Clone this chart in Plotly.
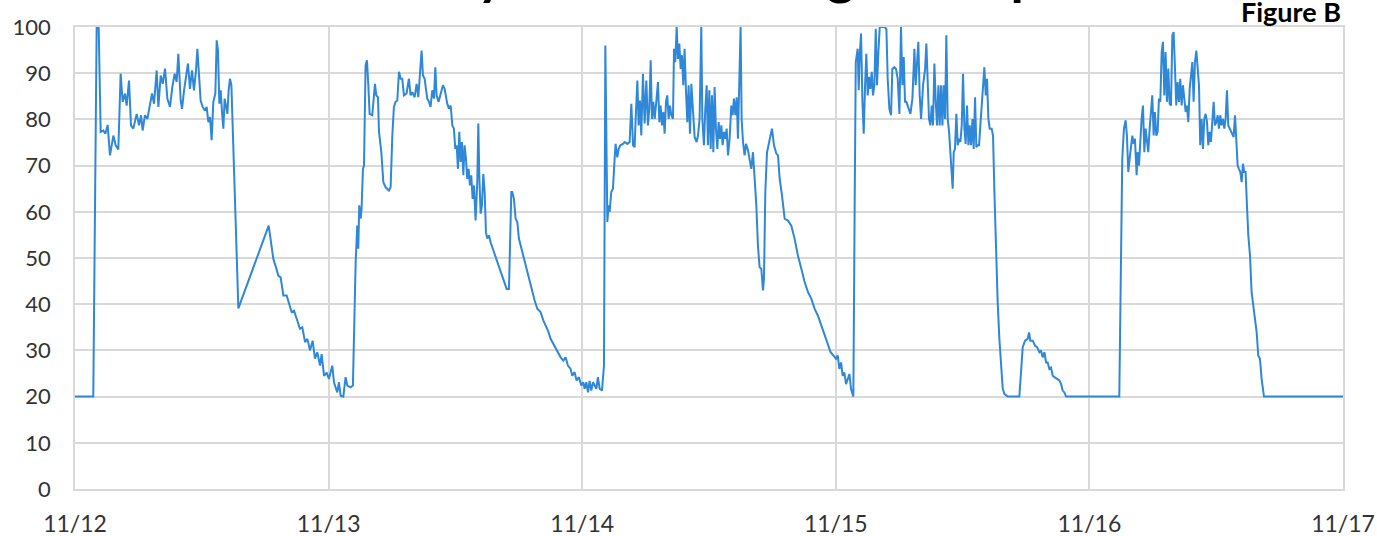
import pandas as pd
import plotly.graph_objects as go

# ---- data: hours since 11/12 00:00 and reading values ----
day1_hours = [0, 1.73, 2.05, 2.24, 2.43, 2.68, 2.87, 3.09, 3.31, 3.47, 3.63, 3.85, 4.10, 4.32, 4.51, 4.73, 4.89,
              5.11, 5.30, 5.52, 5.84, 6.06, 6.25, 6.40, 6.62, 6.85, 7.10, 7.29, 7.48, 7.73, 7.89, 8.11, 8.30,
              8.52, 8.74, 8.99, 9.21, 9.43, 9.62, 9.78, 10.00, 10.13, 10.32, 10.50, 10.69, 10.88, 11.07, 11.26,
              11.45, 11.58, 11.77, 11.89, 12.08, 12.30, 12.46, 12.62, 12.78, 12.93, 13.09, 13.28, 13.41, 13.53,
              13.66, 13.79, 13.91, 14.04, 14.16, 14.29, 14.42, 14.54, 14.67, 14.80, 14.89, 15.05, 15.46, 18.33,
              18.61, 18.77, 19.02, 19.24, 19.46, 19.72, 20.03, 20.28, 20.50, 20.73, 20.98, 21.29, 21.51, 21.77,
              21.99, 22.24, 22.49, 22.71, 22.93, 23.19, 23.34, 23.57, 23.82]
day1_vals = [20, 20, 100, 100, 77.3, 77.6, 76.9, 78.8, 72.2, 74.4, 76.5, 74.4, 73.5, 89.9, 83.8, 85.6, 83.0,
             88.4, 78.7, 78.0, 81.2, 78.7, 80.9, 77.6, 80.9, 80.1, 83.8, 85.6, 83.4, 90.6, 82.7, 89.5, 87.7,
             91.0, 84.5, 82.7, 87.0, 89.9, 88.1, 94.2, 84.1, 82.3, 86.3, 88.8, 92.1, 86.6, 90.6, 86.3,
             90.6, 95.3, 86.6, 84.1, 82.7, 81.9, 82.7, 79.4, 80.5, 75.5, 83.8, 85.6, 97.1, 94.9,
             83.4, 86.3, 81.6, 78.0, 84.5, 82.7, 81.2, 86.3, 88.8, 87.4, 80.9, 71.5, 39.1, 57.0,
             52.7, 49.8, 48.0, 46.2, 45.8, 41.9, 41.9, 39.7, 38.3, 38.6, 36.8, 34.7, 35.0, 31.8,
             32.5, 30.0, 32.1, 28.2, 29.6, 26.7, 29.2, 24.5, 25.2]

day2_hours = [24.03, 24.35, 24.51, 24.82, 24.98, 25.14, 25.39, 25.61, 25.77, 26.08, 26.30, 26.56, 26.71, 26.81,
              26.90, 27.03, 27.12, 27.25, 27.35, 27.50, 27.63, 27.76, 27.88, 28.13, 28.29, 28.39, 28.51, 28.67,
              28.77, 28.86, 28.99, 29.18, 29.40, 29.71, 29.87, 30.03, 30.18, 30.34, 30.50, 30.66, 30.82, 30.97,
              31.13, 31.38, 31.60, 31.76, 31.92, 32.14, 32.33, 32.49, 32.65, 32.80, 32.93, 33.09, 33.21, 33.34,
              33.50, 33.65, 33.81, 33.97, 34.10, 34.22, 34.41, 34.60, 34.82, 34.98, 35.23, 35.39, 35.55, 35.71,
              35.86, 35.99, 36.12, 36.24, 36.37, 36.49, 36.62, 36.75, 36.87, 37.00, 37.12, 37.25, 37.38, 37.50,
              37.63, 37.76, 37.91, 38.07, 38.17, 38.26, 38.39, 38.51, 38.64, 38.77, 38.89, 39.02, 39.18, 39.33,
              39.65, 39.96, 40.28, 40.59, 40.85, 41.07, 41.16, 41.29, 41.38, 41.54, 41.70, 41.86, 42.01, 42.33,
              42.64, 42.96, 43.28, 43.50, 43.75, 44.06, 44.32, 44.54, 44.76, 45.01, 45.26, 45.48, 45.71, 45.96,
              46.21, 46.43, 46.65, 46.90, 47.06, 47.28, 47.47, 47.69, 47.91, 48.10]
day2_vals = [23.8, 26.7, 23.1, 20.9, 23.1, 20.2, 20.0, 24.2, 22.4, 22.0, 22.4, 49.1, 57.0, 52.0,
             61.4, 58.5, 60.6, 69.3, 70.0, 91.7, 92.8, 87.4, 81.2, 80.9, 85.2, 87.7, 85.2, 84.8,
             77.3, 75.1, 72.9, 66.4, 65.3, 64.6, 65.3, 76.5, 82.7, 83.8, 84.1, 90.3, 88.8, 88.8,
             85.2, 85.6, 88.8, 85.2, 85.9, 84.8, 87.7, 84.8, 91.3, 94.9, 89.5, 88.8, 86.6, 84.5,
             83.8, 82.7, 86.3, 84.5, 91.3, 85.2, 83.8, 85.6, 87.4, 86.6, 83.4, 82.3, 83.0, 78.7,
             78.0, 73.6, 74.4, 69.3, 77.3, 70.8, 75.1, 67.9, 74.4, 71.5, 67.1, 69.3, 65.7, 67.9,
             62.8, 65.7, 58.1, 66.4, 79.1, 67.9, 59.6, 61.4, 68.2, 64.3, 55.6, 54.2, 54.9, 53.4,
             51.3, 49.1, 46.9, 44.8, 43.3, 43.3, 51.3, 64.3, 64.3, 62.8, 58.5, 57.8, 54.2, 51.3,
             48.0, 45.5, 42.6, 40.8, 39.0, 38.3, 36.5, 35.4, 34.3, 32.5, 31.4, 30.3, 29.6, 28.5,
             27.8, 28.5, 26.7, 26.0, 24.5, 25.3, 23.5, 24.2, 22.4, 23.1]

day3_hours = [48.23, 48.39, 48.55, 48.70, 48.86, 49.02, 49.18, 49.34, 49.49, 49.65, 49.87, 50.06, 50.19, 50.38,
              50.50, 50.60, 50.75, 50.91, 51.07, 51.16, 51.32, 51.45, 51.61, 51.86, 52.02, 52.27, 52.49, 52.65,
              52.81, 52.96, 53.06, 53.22, 53.34, 53.47, 53.59, 53.75, 53.91, 54.07, 54.22, 54.35, 54.48, 54.60,
              54.73, 54.86, 55.01, 55.17, 55.30, 55.42, 55.55, 55.68, 55.80, 55.93, 56.05, 56.18, 56.31, 56.43,
              56.59, 56.69, 56.81, 56.94, 57.06, 57.19, 57.32, 57.44, 57.57, 57.69, 57.82, 57.95, 58.07, 58.20,
              58.33, 58.48, 58.64, 58.83, 58.96, 59.11, 59.21, 59.27, 59.37, 59.52, 59.65, 59.78, 59.90, 60.03,
              60.16, 60.28, 60.41, 60.53, 60.66, 60.79, 60.91, 61.04, 61.17, 61.29, 61.42, 61.54, 61.67, 61.80,
              61.95, 62.11, 62.24, 62.36, 62.49, 62.62, 62.74, 62.87, 62.99, 63.09, 63.22, 63.37, 63.50, 63.69,
              63.85, 64.00, 64.16, 64.32, 64.48, 64.63, 64.79, 64.95, 65.11, 65.20, 65.33, 65.49, 65.74, 65.96,
              66.15, 66.37, 66.53, 66.69, 66.91, 67.16, 67.47, 67.79, 68.10, 68.42, 68.74, 69.05, 69.37, 69.68,
              70.00, 70.31, 70.63, 70.94, 71.26, 71.51]
day3_vals = [21.7, 23.1, 20.9, 23.4, 21.3, 23.1, 22.4, 21.7, 24.2, 21.7, 21.3, 26.7, 96.0, 57.8,
             61.4, 60.0, 64.3, 65.0, 71.5, 74.7, 71.8, 73.6, 74.4, 74.7, 75.1, 74.7, 75.1, 83.4,
             74.4, 74.0, 80.1, 88.4, 78.7, 84.1, 76.5, 89.9, 79.1, 88.4, 78.7, 82.3, 92.8, 80.1,
             83.8, 80.1, 83.8, 88.1, 79.4, 83.0, 78.7, 81.6, 76.9, 83.8, 85.2, 80.1, 83.0, 80.9,
             80.1, 95.3, 92.4, 100, 93.1, 96.4, 90.9, 93.9, 87.4, 95.3, 86.3, 79.4, 87.4, 76.9,
             87.7, 82.3, 76.2, 75.1, 76.5, 80.1, 90.9, 100, 80.1, 74.4, 82.3, 87.4, 74.4, 86.3,
             73.6, 85.2, 72.9, 87.0, 77.9, 73.6, 79.4, 75.8, 78.7, 74.4, 77.3, 75.8, 78.0, 72.2,
             75.8, 83.0, 80.9, 84.5, 80.9, 84.8, 75.8, 87.4, 100, 80.1, 75.1, 72.2, 74.7, 73.3,
             71.5, 69.3, 72.9, 67.9, 61.4, 52.7, 48.0, 47.7, 43.0, 45.5, 64.3, 72.9, 75.5, 78.0,
             74.4, 72.6, 72.2, 67.1, 63.5, 58.5, 58.1, 57.0, 54.2, 50.5, 47.7, 44.8, 42.6, 41.2,
             39.0, 37.5, 35.4, 33.2, 31.0, 29.6]

day4_hours = [72.02, 72.18, 72.34, 72.50, 72.65, 72.81, 72.97, 73.13, 73.29, 73.44, 73.66, 73.79, 73.89, 74.07,
              74.17, 74.26, 74.39, 74.52, 74.64, 74.77, 74.89, 75.02, 75.15, 75.27, 75.40, 75.52, 75.65, 75.78,
              75.90, 76.03, 76.16, 76.60, 76.79, 76.91, 77.07, 77.23, 77.35, 77.54, 77.70, 77.86, 78.02, 78.17,
              78.30, 78.43, 78.55, 78.68, 78.87, 79.06, 79.25, 79.44, 79.56, 79.69, 79.81, 79.94, 80.07, 80.26,
              80.45, 80.57, 80.70, 80.82, 80.95, 81.08, 81.20, 81.33, 81.46, 81.58, 81.71, 81.83, 81.96, 82.09,
              82.21, 82.34, 82.46, 82.59, 82.72, 82.84, 82.97, 83.06, 83.16, 83.28, 83.41, 83.54, 83.66, 83.79,
              83.92, 84.04, 84.17, 84.29, 84.42, 84.55, 84.67, 84.80, 84.93, 85.05, 85.18, 85.30, 85.43, 85.56,
              85.68, 85.81, 85.94, 86.06, 86.19, 86.31, 86.44, 86.57, 86.75, 86.88, 87.01, 87.17, 87.32, 87.48,
              87.64, 87.80, 87.95, 88.27, 89.37, 89.53, 89.69, 89.91, 90.16, 90.29, 90.41, 90.64, 90.86, 91.05,
              91.27, 91.42, 91.58, 91.74, 91.90, 92.05, 92.21, 92.37, 92.53, 92.69, 92.94, 93.16, 93.32, 93.47,
              93.63, 93.79]
day4_vals = [28.2, 28.9, 26.0, 27.4, 24.5, 25.2, 22.7, 23.8, 24.9, 21.7, 20.0, 62.8, 92.4, 95.3,
             86.3, 93.9, 98.6, 83.8, 76.9, 87.4, 94.2, 85.2, 89.2, 86.6, 90.3, 85.2, 87.4, 99.6,
             87.4, 94.6, 100, 100, 99.6, 88.8, 82.3, 80.9, 90.9, 91.3, 90.9, 88.8, 81.2, 100,
             87.4, 93.5, 83.8, 83.8, 82.3, 81.2, 84.5, 95.3, 87.4, 92.4, 96.8, 85.2, 80.1, 87.4,
             90.9, 96.4, 87.4, 80.1, 78.7, 83.0, 78.7, 92.1, 83.8, 78.7, 87.4, 78.7, 87.4, 78.7,
             87.4, 80.1, 98.2, 80.1, 77.3, 72.9, 67.9, 65.0, 72.9, 73.6, 81.2, 74.4, 75.8, 75.1,
             78.7, 89.9, 78.0, 74.7, 83.0, 74.4, 78.7, 74.4, 80.1, 73.6, 84.8, 74.0, 74.4, 74.4,
             78.7, 83.8, 86.6, 91.3, 85.2, 88.8, 80.1, 78.0, 78.0, 76.5, 64.3, 51.3, 40.4, 32.5,
             26.0, 21.7, 20.6, 20.0, 20.0, 26.0, 30.7, 32.1, 32.5, 33.9, 32.1, 32.1, 31.0, 30.7,
             29.6, 30.0, 28.5, 29.6, 27.4, 27.4, 26.0, 26.3, 24.5, 24.2, 23.8, 23.5, 22.7, 21.3,
             20.9, 20.0]

day5_hours = [98.83, 99.11, 99.27, 99.43, 99.55, 99.68, 99.81, 99.93, 100.06, 100.19, 100.31, 100.47, 100.56,
              100.69, 100.82, 100.94, 101.07, 101.20, 101.32, 101.45, 101.57, 101.70, 101.83, 101.95, 102.08,
              102.20, 102.33, 102.46, 102.58, 102.71, 102.84, 102.96, 103.09, 103.21, 103.34, 103.47, 103.59,
              103.72, 103.85, 103.97, 104.10, 104.22, 104.35, 104.48, 104.60, 104.73, 104.85, 104.98, 105.11,
              105.23, 105.36, 105.49, 105.61, 105.74, 105.86, 105.99, 106.12, 106.24, 106.37, 106.49, 106.62,
              106.75, 106.87, 107.00, 107.13, 107.25, 107.38, 107.50, 107.63, 107.76, 107.88, 108.01, 108.14,
              108.26, 108.39, 108.51, 108.64, 108.77, 108.89, 109.02, 109.14, 109.27, 109.40, 109.52, 109.65,
              109.78, 109.90, 110.03, 110.15, 110.28, 110.41, 110.53, 110.66, 110.78, 110.91, 111.04, 111.20,
              111.35, 111.51, 111.67, 111.83, 111.98, 112.14, 112.30, 112.52, 120.0]
day5_vals = [20.0, 71.5, 78.0, 79.8, 76.5, 68.6, 71.5, 73.6, 76.5, 74.7, 75.8, 67.9, 72.9,
             70.0, 76.5, 80.1, 83.0, 72.9, 78.0, 74.4, 72.9, 78.0, 83.0, 85.2, 76.5,
             81.6, 76.5, 77.3, 84.5, 83.8, 94.6, 96.8, 85.2, 94.6, 83.8, 91.0, 83.4,
             83.0, 98.2, 98.9, 91.0, 83.0, 88.1, 83.8, 88.8, 83.0, 87.4, 84.5, 81.6,
             83.0, 79.4, 86.6, 88.8, 92.4, 83.8, 92.4, 94.9, 90.9, 87.4, 74.4, 80.1,
             73.6, 80.1, 81.2, 79.4, 74.4, 77.3, 75.1, 80.1, 83.8, 78.7, 79.4, 80.9,
             78.0, 80.9, 78.7, 80.1, 78.0, 80.1, 86.3, 78.7, 78.0, 77.3, 76.5, 76.2,
             80.9, 76.5, 70.0, 69.3, 68.6, 66.4, 70.4, 68.6, 68.6, 61.4, 54.9, 50.5,
             42.6, 39.7, 36.8, 33.9, 28.9, 28.2, 23.8, 20.0, 20.0]

y_ticks = [0, 10, 20, 30, 40, 50, 60, 70, 80, 90, 100]
start_date = "2018-11-12"
end_date = "2018-11-17"
title_text = "Humidity Level Tracking to Setpoint"
figure_label = "Figure B"

hours = day1_hours + day2_hours + day3_hours + day4_hours + day5_hours
values = day1_vals + day2_vals + day3_vals + day4_vals + day5_vals
times = pd.Timestamp(start_date) + pd.to_timedelta(hours, unit="h")

LINE = "#2f87d8"
GRID = "#d9d9d9"
FONT = "Lato"

fig = go.Figure()
fig.add_trace(go.Scatter(x=times, y=values, mode="lines",
                         line=dict(color=LINE, width=2), showlegend=False))

fig.update_layout(
    width=1377, height=536,
    margin=dict(l=75, r=34, t=27, b=47),
    paper_bgcolor="white", plot_bgcolor="white",
    font=dict(family=FONT, size=22, color="#333333"),
    xaxis=dict(range=[start_date, end_date], dtick=86400000, tickformat="%m/%d",
               automargin=False,
               showgrid=True, gridcolor=GRID, gridwidth=1.5,
               showline=True, linecolor=GRID, linewidth=1.5, mirror=True,
               ticks="outside", ticklen=14, tickcolor="rgba(0,0,0,0)",
               tickfont=dict(size=23, color="#333333"), zeroline=False),
    yaxis=dict(range=[0, 100], tickvals=y_ticks, automargin=False,
               showgrid=True, gridcolor=GRID, gridwidth=1.5,
               showline=True, linecolor=GRID, linewidth=1.5, mirror=True,
               ticks="outside", ticklen=18, tickcolor="rgba(0,0,0,0)",
               tickfont=dict(size=22, color="#333333"), zeroline=False),
)

fig.add_annotation(text="<b>" + title_text + "</b>", xref="paper", yref="paper",
                   x=0.5, y=1.041, xanchor="center", yanchor="bottom", showarrow=False,
                   font=dict(family=FONT, size=54, color="black"))
fig.add_annotation(text="<b>" + figure_label + "</b>", xref="paper", yref="paper",
                   x=1.0, y=0.993, xanchor="right", yanchor="bottom", showarrow=False,
                   font=dict(family=FONT, size=27, color="black"))

fig.write_html("out.html", config={"displayModeBar": False},
               post_script="document.body.style.margin='0';")
